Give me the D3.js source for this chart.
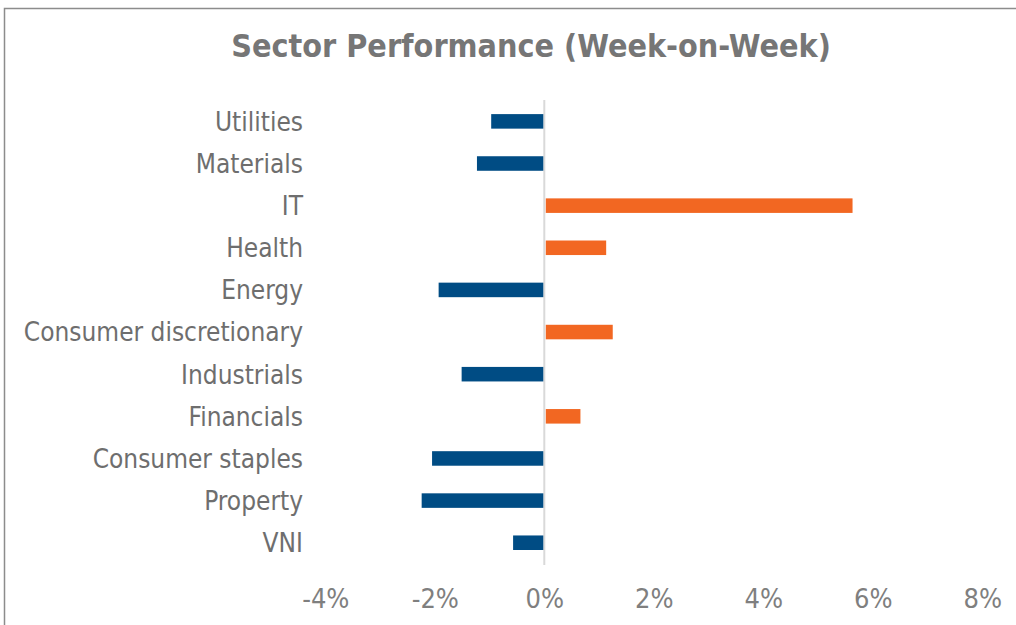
<!DOCTYPE html>
<html>
<head>
<meta charset="utf-8">
<script src="https://cdn.jsdelivr.net/npm/d3@7"></script>
<style>
  html, body { margin: 0; padding: 0; background: #fff; }
  svg { display: block; }
  text { font-family: "DejaVu Sans Condensed", "DejaVu Sans", sans-serif; }
</style>
</head>
<body>
<div id="chart"></div>
<script>
// sector names, top to bottom
var sectors = ["Utilities", "Materials", "IT", "Health", "Energy",
  "Consumer discretionary", "Industrials", "Financials",
  "Consumer staples", "Property", "VNI"];
// week-on-week change, %
var changes = [-0.97, -1.23, 5.63, 1.13, -1.93, 1.25, -1.51, 0.66, -2.05, -2.24, -0.57];
var tickValues = [-4, -2, 0, 2, 4, 6, 8];

var width = 1016, height = 625;

var svg = d3.select("#chart").append("svg")
  .attr("width", width)
  .attr("height", height);

// chart border (runs off the right and bottom edge)
svg.append("rect")
  .attr("x", 4.5).attr("y", 8.5)
  .attr("width", width + 20).attr("height", height + 20)
  .attr("fill", "#fff")
  .attr("stroke", "#8c8c8c")
  .attr("stroke-width", 1.5);

svg.append("text")
  .attr("x", 531).attr("y", 57)
  .attr("text-anchor", "middle")
  .attr("font-size", 32)
  .attr("font-weight", "bold")
  .attr("fill", "#767676")
  .text("Sector Performance (Week-on-Week)");

var x = d3.scaleLinear().domain([-4, 8]).range([325.3, 982.3]);
var y = d3.scaleBand().domain(sectors).range([100.2, 563.9]).paddingInner(0.655).paddingOuter(0.33);

// zero line
svg.append("line")
  .attr("x1", x(0)).attr("x2", x(0))
  .attr("y1", 100).attr("y2", 565)
  .attr("stroke", "#d9d9d9")
  .attr("stroke-width", 2);

svg.selectAll("rect.bar")
  .data(changes)
  .enter()
    .append("rect")
    .attr("class", "bar")
    .attr("x", function(d){ return d < 0 ? x(d) : x(0) + 1.5; })
    .attr("y", function(d, i){ return y(sectors[i]); })
    .attr("width", function(d){ return d < 0 ? x(0) - 1 - x(d) : x(d) - x(0) - 1.5; })
    .attr("height", y.bandwidth())
    .attr("fill", function(d){ return d < 0 ? "#004c84" : "#f26722"; });

// category labels
svg.selectAll("text.cat")
  .data(sectors)
  .enter()
    .append("text")
    .attr("class", "cat")
    .attr("x", 303)
    .attr("y", function(d){ return y(d) + y.bandwidth() / 2; })
    .attr("dy", "0.36em")
    .attr("text-anchor", "end")
    .attr("font-size", 26)
    .attr("fill", "#6e6e6e")
    .text(function(d){ return d; });

// x axis labels
var xAxis = d3.axisBottom(x)
  .tickValues(tickValues)
  .tickSize(0)
  .tickPadding(0)
  .tickFormat(function(d){ return d + "%"; });

var gx = svg.append("g")
  .attr("transform", "translate(0,589)")
  .call(xAxis);
gx.select(".domain").remove();
gx.selectAll("text")
  .attr("font-size", 27)
  .attr("font-family", "\"DejaVu Sans Condensed\", \"DejaVu Sans\", sans-serif")
  .attr("fill", "#7f7f7f");
</script>
</body>
</html>
